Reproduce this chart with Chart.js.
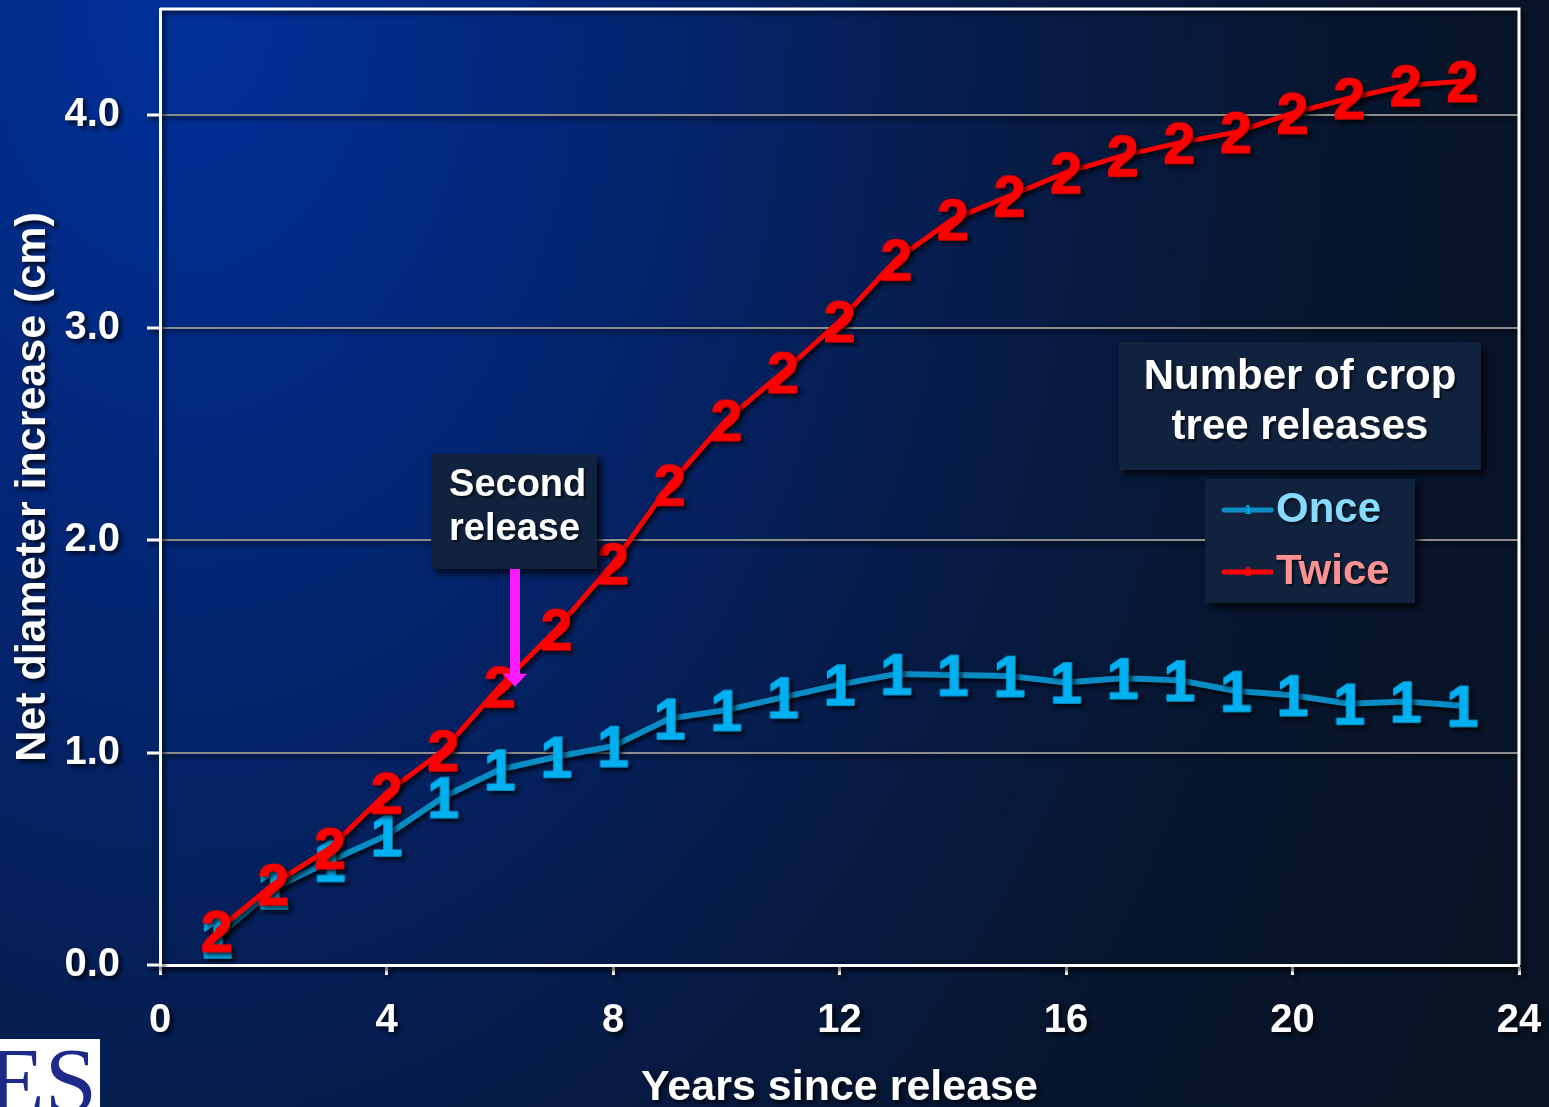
<!DOCTYPE html>
<html>
<head>
<meta charset="utf-8">
<title>Net diameter increase after crop tree release</title>
<script src="https://cdn.jsdelivr.net/npm/chart.js@4.4.1/dist/chart.umd.min.js"></script>
<style>
  html, body { margin: 0; padding: 0; background: #061428; overflow: hidden; }
  canvas { display: block; }
</style>
</head>
<body>
<canvas id="chart" width="1549" height="1107" style="width:1549px;height:1107px"></canvas>
<script>
// Years since the first release
const years = [1, 2, 3, 4, 5, 6, 7, 8, 9, 10, 11, 12, 13, 14, 15, 16, 17, 18, 19, 20, 21, 22, 23];
// Net diameter increase (cm), trees released once
const onceValues = [0.13, 0.36, 0.49, 0.61, 0.79, 0.92, 0.98, 1.03, 1.16, 1.20, 1.26, 1.32, 1.37, 1.365, 1.36, 1.33, 1.35, 1.34, 1.29, 1.27, 1.23, 1.24, 1.22];
// Net diameter increase (cm), trees released twice
const twiceValues = [0.16, 0.38, 0.55, 0.81, 1.01, 1.31, 1.58, 1.89, 2.26, 2.565, 2.79, 3.03, 3.32, 3.51, 3.62, 3.73, 3.81, 3.87, 3.92, 4.01, 4.08, 4.14, 4.16];
// Axis ticks
const xTicks = [0, 4, 8, 12, 16, 20, 24];
const yTicks = [0, 1, 2, 3, 4];
// Labels
const seriesNames = ['Once', 'Twice'];
const seriesGlyphs = ['1', '2'];
const legendTitle = ['Number of crop', 'tree releases'];
const noteLines = ['Second', 'release'];
const noteYear = 6.27;      // when the second release was applied
const noteValue = 1.31;     // where the arrow points on the Twice curve
const xTitle = 'Years since release';
const yTitle = 'Net diameter increase (cm)';
const logoText = 'ES';

const FONT = '"Liberation Sans", Arial, Helvetica, sans-serif';
Chart.defaults.font.family = FONT;

const colors = {
  onceLine: '#0a8cc4',
  onceGlyph: '#00b0f0',
  onceText: '#86dbff',
  twiceLine: '#ff0000',
  twiceGlyph: '#ff0000',
  twiceText: '#ff9191',
  box: '#10223d',
  arrow: '#ff1aff'
};

// Digit marker drawn into a small canvas, used as a point style
function glyph(ch, color, size) {
  const c = document.createElement('canvas');
  const w = Math.ceil(size * 0.75), h = Math.ceil(size * 0.95);
  c.width = w; c.height = h;
  const g = c.getContext('2d');
  g.font = 'bold ' + size + 'px ' + FONT;
  g.fillStyle = color;
  g.strokeStyle = color;
  g.lineWidth = 1.5;
  g.lineJoin = 'round';
  g.textAlign = 'center';
  g.textBaseline = 'alphabetic';
  const by = h / 2 + size * 0.716 / 2;
  g.fillText(ch, w / 2, by);
  g.strokeText(ch, w / 2, by);
  return c;
}

function setShadow(ctx, on) {
  if (on) {
    ctx.shadowColor = 'rgba(0,0,0,0.75)';
    ctx.shadowOffsetX = 3;
    ctx.shadowOffsetY = 3;
    ctx.shadowBlur = 4;
  } else {
    ctx.shadowColor = 'rgba(0,0,0,0)';
    ctx.shadowOffsetX = 0;
    ctx.shadowOffsetY = 0;
    ctx.shadowBlur = 0;
  }
}

// Slide background, plot frame, annotations and legend
const slidePlugin = {
  id: 'slide',
  beforeDraw(chart) {
    const ctx = chart.ctx;
    const W = chart.width, H = chart.height;
    ctx.save();
    ctx.translate(180, 0);
    ctx.scale(1, 1.4);
    const grad = ctx.createRadialGradient(0, 0, 0, 0, 0, 1450);
    grad.addColorStop(0, '#00309a');
    grad.addColorStop(0.3, '#032672');
    grad.addColorStop(0.58, '#061b48');
    grad.addColorStop(0.8, '#07162e');
    grad.addColorStop(1, '#081426');
    ctx.fillStyle = grad;
    ctx.fillRect(-300, -50, W + 400, H + 100);
    ctx.restore();
    setShadow(ctx, true);
  },
  beforeDatasetsDraw(chart) {
    const ctx = chart.ctx;
    const a = chart.chartArea;
    ctx.save();
    ctx.strokeStyle = '#ffffff';
    ctx.lineWidth = 3;
    ctx.beginPath();
    ctx.moveTo(a.left, a.top);
    ctx.lineTo(a.right, a.top);
    ctx.lineTo(a.right, a.bottom);
    ctx.stroke();
    ctx.restore();
  },
  afterDatasetsDraw(chart) {
    const ctx = chart.ctx;
    const xs = chart.scales.x, ys = chart.scales.y;
    setShadow(ctx, false);

    const box = (x, y, w, h) => {
      ctx.save();
      ctx.shadowColor = 'rgba(0,0,0,0.7)';
      ctx.shadowOffsetX = 5; ctx.shadowOffsetY = 5; ctx.shadowBlur = 6;
      ctx.fillStyle = colors.box;
      ctx.fillRect(x, y, w, h);
      ctx.restore();
    };
    const text = (t, x, y, size, color, align) => {
      ctx.save();
      ctx.shadowColor = 'rgba(0,0,0,0.6)';
      ctx.shadowOffsetX = 2; ctx.shadowOffsetY = 2; ctx.shadowBlur = 2;
      ctx.font = 'bold ' + size + 'px ' + FONT;
      ctx.fillStyle = color;
      ctx.textAlign = align;
      ctx.textBaseline = 'middle';
      ctx.fillText(t, x, y);
      ctx.restore();
    };

    // "Second release" note with arrow
    const ax = xs.getPixelForValue(noteYear);
    const tipY = ys.getPixelForValue(noteValue);
    const nb = { x: ax - 84, y: 454, w: 166, h: 115 };
    box(nb.x, nb.y, nb.w, nb.h);
    text(noteLines[0], nb.x + 18, 486, 38, '#ffffff', 'left');
    text(noteLines[1], nb.x + 18, 530, 38, '#ffffff', 'left');
    ctx.save();
    ctx.fillStyle = colors.arrow;
    ctx.fillRect(ax - 5, nb.y + nb.h, 10, tipY - 12 - (nb.y + nb.h));
    ctx.beginPath();
    ctx.moveTo(ax - 12, tipY - 13);
    ctx.lineTo(ax + 12, tipY - 13);
    ctx.lineTo(ax, tipY);
    ctx.closePath();
    ctx.fill();
    ctx.restore();

    // Legend title box
    box(1119, 342, 362, 128);
    text(legendTitle[0], 1300, 377, 42, '#ffffff', 'center');
    text(legendTitle[1], 1300, 427, 42, '#ffffff', 'center');

    // Legend entries
    box(1205, 479, 210, 124);
    const entries = [
      { name: seriesNames[0], g: seriesGlyphs[0], line: colors.onceLine, glyph: colors.onceGlyph, txt: colors.onceText, y: 510 },
      { name: seriesNames[1], g: seriesGlyphs[1], line: colors.twiceLine, glyph: colors.twiceGlyph, txt: colors.twiceText, y: 572 }
    ];
    entries.forEach(e => {
      ctx.save();
      ctx.strokeStyle = e.line;
      ctx.lineWidth = 5;
      ctx.lineCap = 'round';
      ctx.beginPath();
      ctx.moveTo(1224, e.y);
      ctx.lineTo(1271, e.y);
      ctx.stroke();
      ctx.font = 'bold 12px ' + FONT;
      ctx.fillStyle = e.glyph;
      ctx.textAlign = 'center';
      ctx.textBaseline = 'middle';
      ctx.fillText(e.g, 1248, e.y + 1);
      ctx.restore();
      text(e.name, 1276, e.y, 42, e.txt, 'left');
    });
  },
  afterDraw(chart) {
    const ctx = chart.ctx;
    setShadow(ctx, false);
    // Corner logo
    ctx.save();
    ctx.fillStyle = '#ffffff';
    ctx.fillRect(0, 1039, 100, chart.height - 1039);
    ctx.beginPath();
    ctx.rect(0, 1039, 100, chart.height - 1039);
    ctx.clip();
    ctx.font = '94px "Liberation Serif", "Times New Roman", serif';
    ctx.fillStyle = '#1e2a8a';
    ctx.textAlign = 'right';
    ctx.textBaseline = 'alphabetic';
    ctx.fillText(logoText, 97, 1112);
    ctx.restore();
  }
};

const toPoints = vals => years.map((x, i) => ({ x: x, y: vals[i] }));

new Chart(document.getElementById('chart'), {
  type: 'line',
  data: {
    datasets: [
      {
        label: seriesNames[0],
        data: toPoints(onceValues),
        borderColor: colors.onceLine,
        backgroundColor: colors.onceGlyph,
        borderWidth: 6,
        pointStyle: glyph(seriesGlyphs[0], colors.onceGlyph, 57),
        pointRadius: 10,
        tension: 0,
        fill: false,
        clip: false,
        order: 1
      },
      {
        label: seriesNames[1],
        data: toPoints(twiceValues),
        borderColor: colors.twiceLine,
        backgroundColor: colors.twiceGlyph,
        borderWidth: 5,
        pointStyle: glyph(seriesGlyphs[1], colors.twiceGlyph, 57),
        pointRadius: 10,
        tension: 0,
        fill: false,
        clip: false,
        order: 0
      }
    ]
  },
  options: {
    responsive: false,
    animation: false,
    devicePixelRatio: 1,
    layout: { autoPadding: false, padding: { left: 0, right: 30, top: 9, bottom: 0 } },
    plugins: { legend: { display: false }, tooltip: { enabled: false } },
    events: [],
    scales: {
      x: {
        type: 'linear',
        min: 0,
        max: 24,
        afterFit(s) { s.height = 142; s.paddingLeft = 0; s.paddingRight = 0; },
        afterBuildTicks(s) { s.ticks = xTicks.map(v => ({ value: v })); },
        grid: { drawOnChartArea: false, drawTicks: true, tickLength: 10, tickColor: '#ffffff', tickWidth: 3, color: '#ffffff' },
        border: { display: true, color: '#ffffff', width: 3 },
        ticks: { color: '#ffffff', font: { size: 40, weight: 'bold' }, padding: 22, maxRotation: 0, autoSkip: false, callback: v => String(v) },
        title: { display: true, text: xTitle, color: '#ffffff', font: { size: 43, weight: 'bold', lineHeight: 0.9 }, padding: 0 }
      },
      y: {
        type: 'linear',
        min: 0,
        max: 4.5,
        afterFit(s) { s.width = 160; s.paddingTop = 0; s.paddingBottom = 0; },
        afterBuildTicks(s) { s.ticks = yTicks.map(v => ({ value: v })); },
        grid: { color: '#8c8c8c', lineWidth: 2, drawTicks: true, tickLength: 13, tickColor: '#ffffff', tickWidth: 3 },
        border: { display: true, color: '#ffffff', width: 3 },
        ticks: { color: '#ffffff', font: { size: 40, weight: 'bold' }, padding: 27, callback: v => Number(v).toFixed(1) },
        title: { display: true, text: yTitle, color: '#ffffff', font: { size: 43, weight: 'bold' }, padding: { top: 7, bottom: 0 } }
      }
    }
  },
  plugins: [slidePlugin]
});
</script>
</body>
</html>
